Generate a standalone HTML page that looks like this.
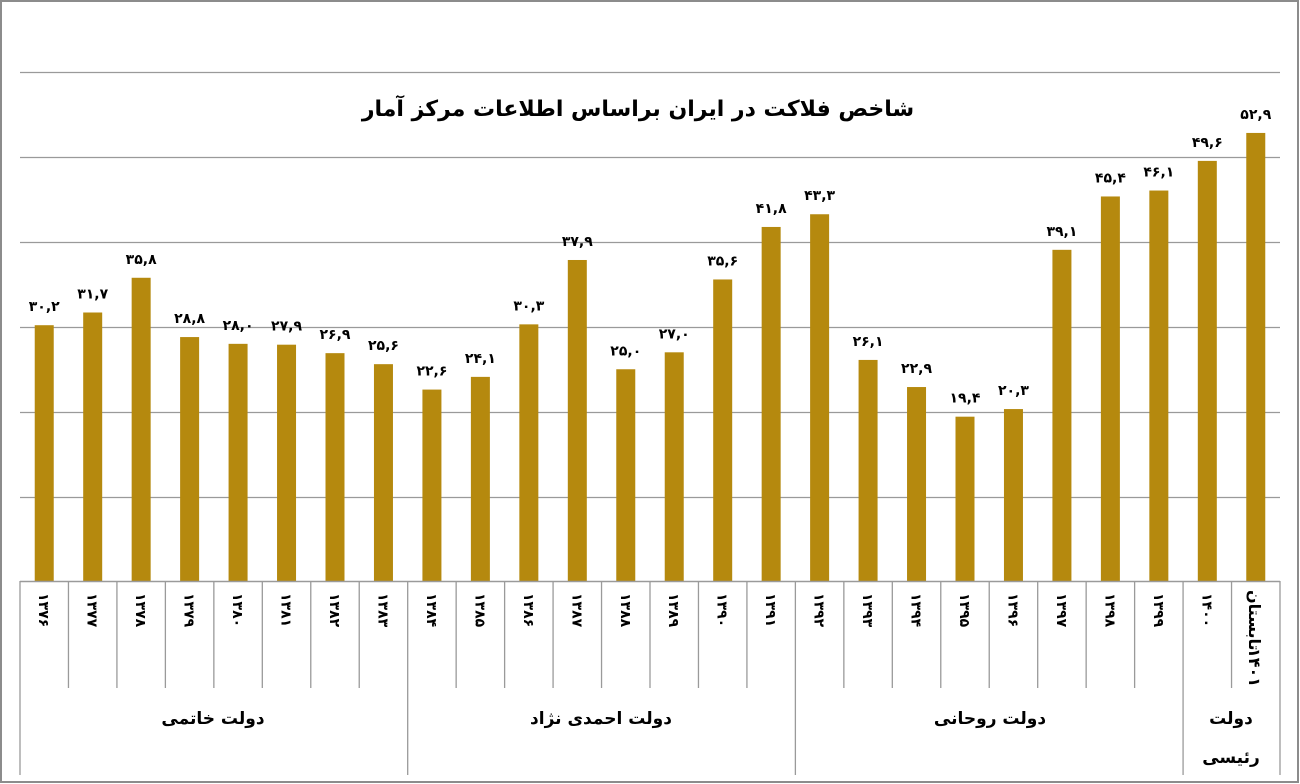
<!DOCTYPE html>
<html><head><meta charset="utf-8"><style>
html,body{margin:0;padding:0;background:#fff;}
svg{display:block;}
text{font-family:"DejaVu Sans","Liberation Sans",sans-serif;font-weight:bold;fill:#000;}
</style></head><body>
<svg width="1300" height="784" viewBox="0 0 1300 784" xmlns="http://www.w3.org/2000/svg">
<rect x="1" y="1" width="1297" height="781" fill="#fff" stroke="#8c8c8c" stroke-width="2"/>
<g stroke="#9a9a9a" stroke-width="1.3">
<line x1="20" y1="72.5" x2="1280" y2="72.5"/>
<line x1="20" y1="157.5" x2="1280" y2="157.5"/>
<line x1="20" y1="242.5" x2="1280" y2="242.5"/>
<line x1="20" y1="327.5" x2="1280" y2="327.5"/>
<line x1="20" y1="412.5" x2="1280" y2="412.5"/>
<line x1="20" y1="497.5" x2="1280" y2="497.5"/>
</g>
<text x="638" y="116" font-size="22" text-anchor="middle" direction="rtl">شاخص فلاکت در ایران براساس اطلاعات مرکز آمار</text>
<g id="bars"></g>
<line x1="20" y1="581.5" x2="1280" y2="581.5" stroke="#9a9a9a" stroke-width="1.5"/>
<g id="lbl"></g>
<text x="213" y="724" font-size="17" text-anchor="middle" direction="rtl">دولت خاتمی</text>
<text x="601" y="724" font-size="17" text-anchor="middle" direction="rtl">دولت احمدی نژاد</text>
<text x="990" y="724" font-size="17" text-anchor="middle" direction="rtl">دولت  روحانی</text>
<text x="1231" y="724" font-size="17" text-anchor="middle" direction="rtl">دولت</text>
<text x="1231" y="763" font-size="17" text-anchor="middle" direction="rtl">رئیسی</text>
</svg>
<script>
(function(){
var vals=[30.2,31.7,35.8,28.8,28.0,27.9,26.9,25.6,22.6,24.1,30.3,37.9,25.0,27.0,35.6,41.8,43.3,26.1,22.9,19.4,20.3,39.1,45.4,46.1,49.6,52.9];
var fa='۰۱۲۳۴۵۶۷۸۹';
function p(s){return String(s).replace(/[0-9]/g,function(d){return fa[d];});}
var ns='http://www.w3.org/2000/svg';
var bars=document.getElementById('bars'),lbl=document.getElementById('lbl');
var w=(1280-20)/26;
function el(t,a,parent,txt){var e=document.createElementNS(ns,t);for(var k in a)e.setAttribute(k,a[k]);if(txt!==undefined)e.textContent=txt;parent.appendChild(e);return e;}
for(var i=0;i<26;i++){
 var cx=20+w*(i+0.5),v=vals[i],ty=581-v*8.47;
 el('rect',{x:cx-9.5,y:ty,width:19,height:581-ty,fill:'#B5890E'},bars);
 el('text',{x:cx,y:ty-14,'font-size':14,'text-anchor':'middle',direction:'ltr'},bars,p(v.toFixed(1)).replace('.',','));
 var x=20+w*i;
 el('line',{x1:x,y1:581,x2:x,y2:(i==0||i==8||i==16||i==24)?775:688,stroke:'#9a9a9a','stroke-width':1.3},lbl);
 if(i<25){
  el('text',{transform:'translate('+(cx-5)+',593) rotate(90)','font-size':14,direction:'ltr'},lbl,p(1376+i));
 }
}
el('line',{x1:1280,y1:581,x2:1280,y2:775,stroke:'#9a9a9a','stroke-width':1.3},lbl);
var cx2=20+w*25.5;
el('text',{transform:'translate('+(cx2-7)+',590) rotate(90)','font-size':16,direction:'ltr'},lbl,'تابستان');
el('text',{transform:'translate('+(cx2-7)+',648) rotate(90)','font-size':16,direction:'ltr'},lbl,'۱۴۰۱');
})();
</script>
</body></html>
